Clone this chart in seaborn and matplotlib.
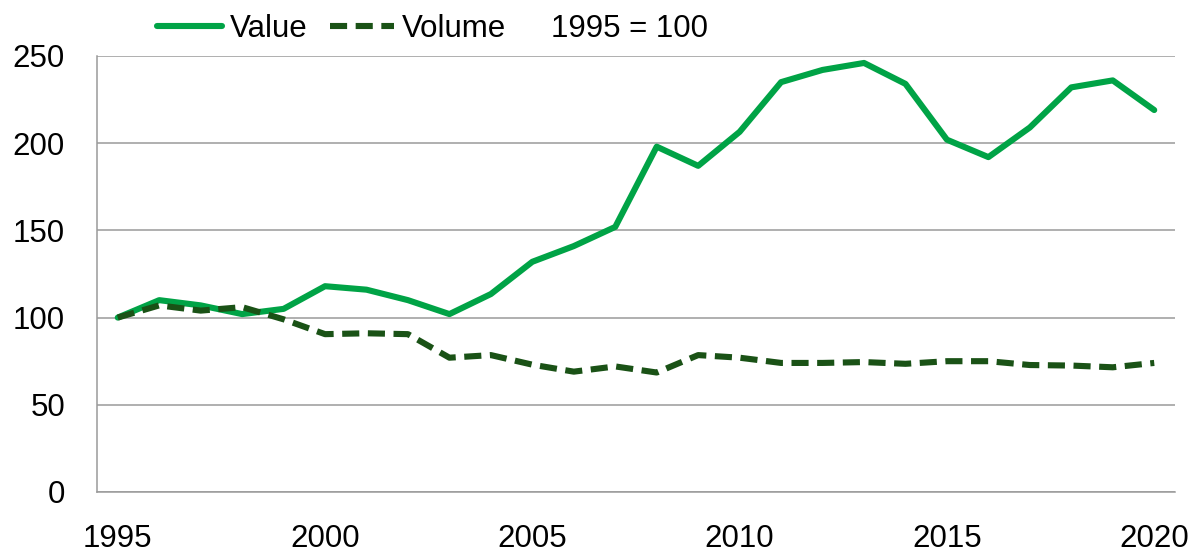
import pandas as pd
import matplotlib
matplotlib.use("Agg")
import matplotlib.pyplot as plt
from matplotlib.ticker import FixedLocator
import seaborn as sns

# --- Data (index, 1995 = 100) ---
years = list(range(1995, 2021))
value = [100, 110, 107, 102, 105, 118, 116, 110, 102, 113.5,
         132, 141, 152, 198, 187, 206.5, 235, 242, 246, 234,
         202, 192, 209, 232, 236, 219]
volume = [100, 107, 104, 106, 99, 90.5, 91, 90.5, 77, 78.5,
          73, 69, 72, 68.5, 78.5, 77, 74, 74, 74.5, 73.5,
          75, 75, 72.8, 72.5, 71.5, 74]
series_names = ["Value", "Volume"]
x_labels = [1995, 2000, 2005, 2010, 2015, 2020]
y_labels = [0, 50, 100, 150, 200, 250]

df = pd.DataFrame({
    "year": years * 2,
    "index": value + volume,
    "series": [series_names[0]] * len(years) + [series_names[1]] * len(years),
})

# --- Style ---
sns.set_style("white")
plt.rcParams["font.family"] = ["Liberation Sans", "DejaVu Sans"]
plt.rcParams["text.color"] = "black"
plt.rcParams["xtick.labelcolor"] = "black"
plt.rcParams["ytick.labelcolor"] = "black"
grey = "#9a9a9a"
colors = {"Value": "#00a346", "Volume": "#1a5216"}
fs = 22.5

fig, ax = plt.subplots(figsize=(11.92, 5.52), dpi=100)
fig.subplots_adjust(left=0.0814, right=0.9857, top=0.8986, bottom=0.1087)

sns.lineplot(data=df, x="year", y="index", hue="series", style="series",
             palette=colors, dashes={"Value": "", "Volume": (2.8, 1.4)},
             linewidth=4.4, ax=ax, legend=False)

# axes
ax.set_xlim(1994.5, 2020.5)
ax.set_ylim(0, 250)
ax.set_xlabel("")
ax.set_ylabel("")
ax.xaxis.set_major_locator(FixedLocator(x_labels))
ax.xaxis.set_minor_locator(FixedLocator([y - 0.5 for y in years] + [2020.5]))
ax.set_yticks(y_labels)
ax.tick_params(axis="x", which="major", length=0, pad=23, labelsize=fs)
ax.tick_params(axis="x", which="minor", length=8, width=1.1, color=grey, direction="out")
ax.tick_params(axis="y", length=8, width=1.1, color=grey, pad=15, labelsize=fs,
               direction="out")
ax.yaxis.grid(True, color=grey, linewidth=1.1)
ax.set_axisbelow(True)
for side in ["top", "right"]:
    ax.spines[side].set_visible(False)
for side in ["left", "bottom"]:
    ax.spines[side].set_color(grey)
    ax.spines[side].set_linewidth(1.1)

# --- Legend ---
handles = [plt.Line2D([], [], color=colors["Value"], linewidth=4.4),
           plt.Line2D([], [], color=colors["Volume"], linewidth=4.4, dashes=(2.8, 1.4))]
fig.legend(handles, series_names, loc="center left", bbox_to_anchor=(0.1317, 0.948),
           ncol=2, frameon=False, fontsize=fs, handlelength=2.07, handletextpad=0.25,
           columnspacing=0.72, borderaxespad=0, borderpad=0)
fig.text(0.462, 0.948, "1995 = 100", fontsize=fs, va="center", ha="left")

plt.savefig("out.png", dpi=100)
